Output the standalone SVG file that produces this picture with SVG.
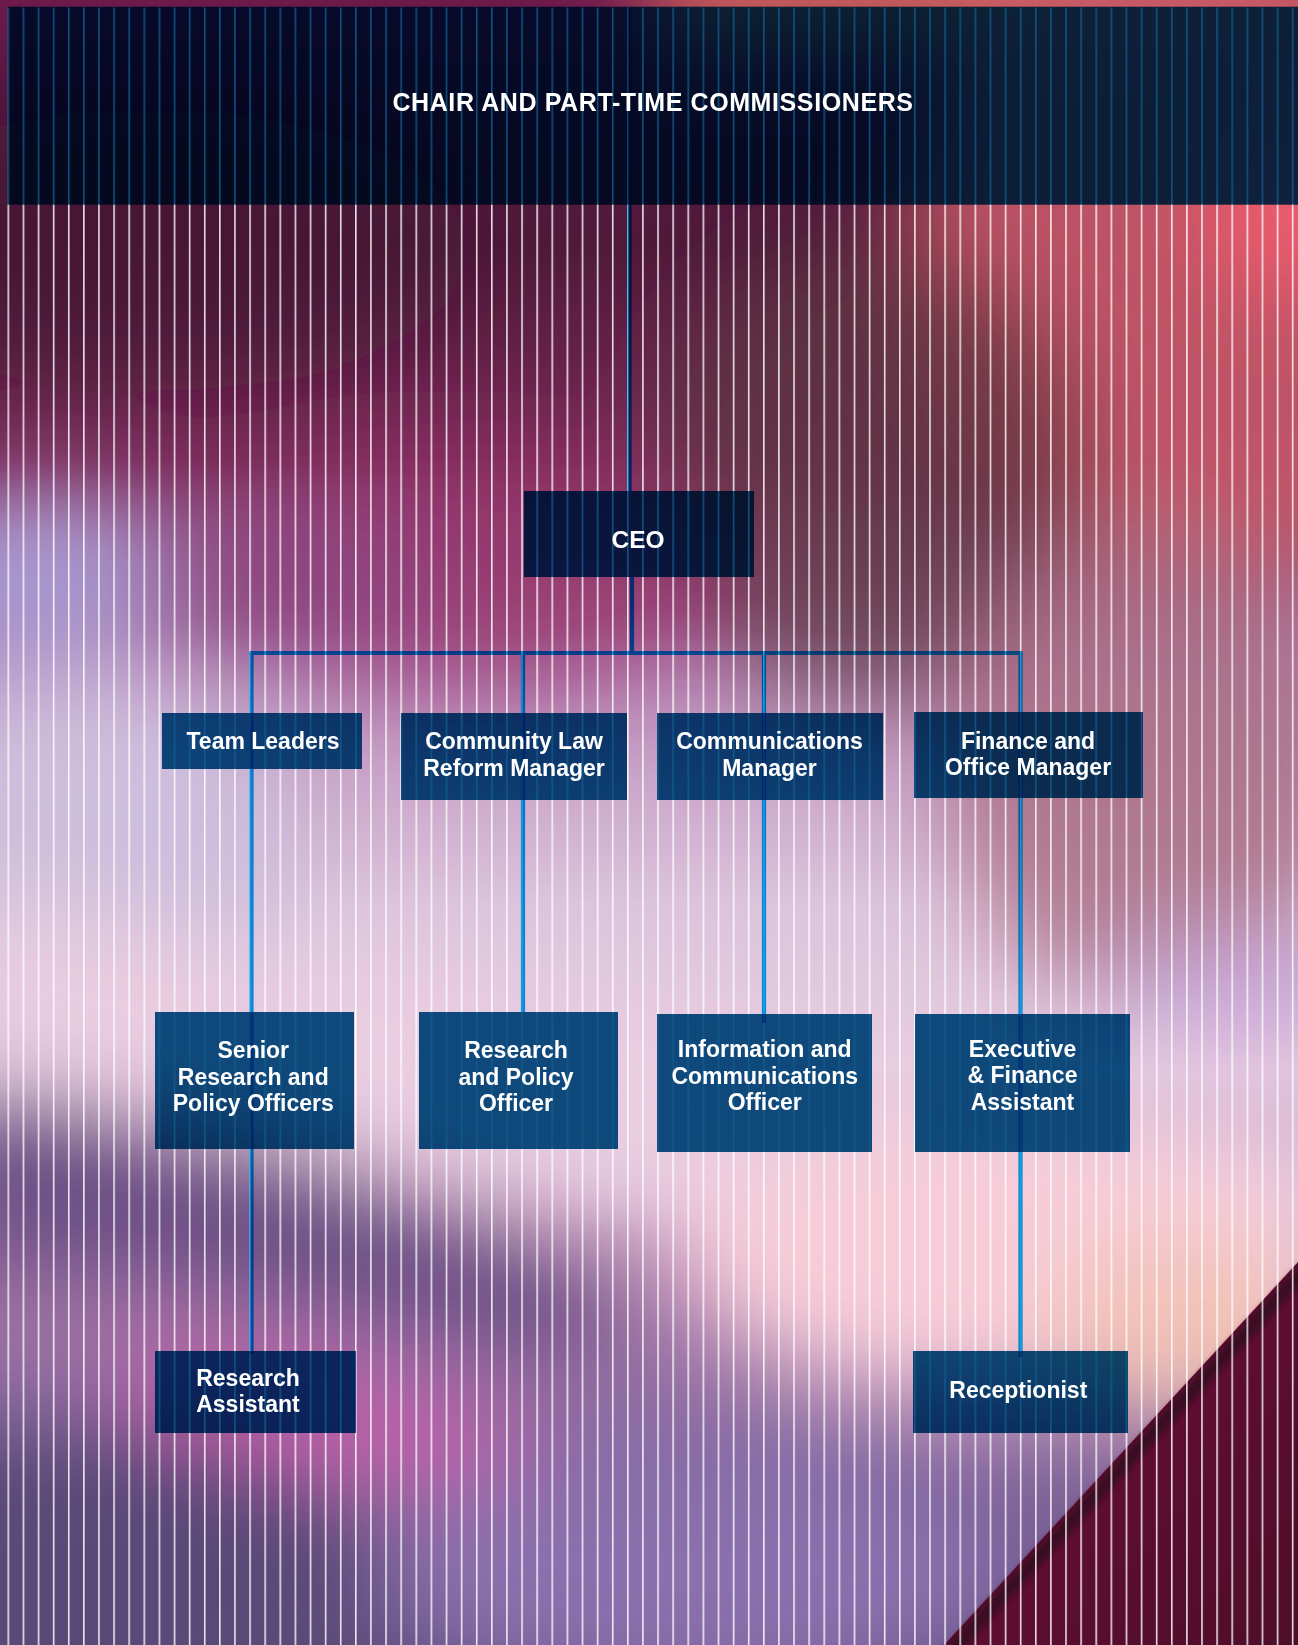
<svg xmlns="http://www.w3.org/2000/svg" width="1298" height="1645" viewBox="0 0 1298 1645">
<style>
.box{fill:#105b8c;mix-blend-mode:multiply}
.t{font-family:"Liberation Sans",Arial,sans-serif;font-weight:700;font-size:23px;fill:#ffffff;text-anchor:middle}
.conn path{fill:none;stroke:#0eaaf2;stroke-width:4.2}
</style>
<defs>
<linearGradient id="bgv" x1="0" y1="0" x2="0" y2="1">
<stop offset="0" stop-color="#6e1a4c"/>
<stop offset="0.06" stop-color="#561842"/>
<stop offset="0.15" stop-color="#501a3a"/>
<stop offset="0.28" stop-color="#7a2a58"/>
<stop offset="0.40" stop-color="#b888b8"/>
<stop offset="0.55" stop-color="#dcc4dc"/>
<stop offset="0.65" stop-color="#e6cce0"/>
<stop offset="0.75" stop-color="#a878a8"/>
<stop offset="0.88" stop-color="#8a6aa0"/>
<stop offset="1" stop-color="#5e4c7c"/>
</linearGradient>
<linearGradient id="crim" x1="0" y1="0" x2="1" y2="1">
<stop offset="0" stop-color="#6e0c3c"/>
<stop offset="1" stop-color="#4e0e28"/>
</linearGradient>
<filter id="blur" filterUnits="userSpaceOnUse" x="-300" y="-300" width="1900" height="2245">
<feGaussianBlur stdDeviation="45"/>
</filter>
<filter id="soft" filterUnits="userSpaceOnUse" x="-100" y="-100" width="1500" height="1845">
<feGaussianBlur stdDeviation="2.5"/>
</filter>
<pattern id="stripes" patternUnits="userSpaceOnUse" x="7.5" y="0" width="15.11" height="100">
<rect x="0" y="0" width="1.6" height="100" fill="#ffffff"/>
</pattern>
</defs>

<g id="background">
<rect x="0" y="0" width="1298" height="1645" fill="url(#bgv)"/>
<g filter="url(#blur)">
<rect x="650" y="-80" width="700" height="130" fill="#d0645e"/>
<ellipse cx="1200" cy="260" rx="300" ry="330" fill="#c85a68" opacity="0.9"/>
<ellipse cx="1290" cy="210" rx="90" ry="90" fill="#ec5c6e"/>
<ellipse cx="150" cy="250" rx="320" ry="140" fill="#3e1430" opacity="0.55"/>
<ellipse cx="870" cy="470" rx="220" ry="230" fill="#5c3440" opacity="0.75"/>
<ellipse cx="480" cy="570" rx="260" ry="120" fill="#94306a" opacity="0.75"/>
<ellipse cx="250" cy="580" rx="180" ry="80" fill="#8a4a84" opacity="0.7"/>
<ellipse cx="30" cy="580" rx="130" ry="85" fill="#a898d0"/>
<ellipse cx="80" cy="860" rx="220" ry="180" fill="#cdbedc"/>
<ellipse cx="1150" cy="760" rx="200" ry="250" fill="#a86a80" opacity="0.8"/>
<polygon points="-50,890 600,1000 1350,1130 1350,1330 700,1250 -50,1060" fill="#e8cce0"/>
<ellipse cx="1250" cy="990" rx="150" ry="50" fill="#c8a8d8"/>
<polygon points="-50,1090 300,1150 620,1290 560,1360 250,1290 -50,1260" fill="#6a4e84"/>
<ellipse cx="330" cy="1420" rx="230" ry="55" fill="#c060a8" transform="rotate(12 330 1420)"/>
<ellipse cx="1000" cy="1260" rx="320" ry="140" fill="#f6ccd8"/>
<ellipse cx="1180" cy="1330" rx="140" ry="90" fill="#f2c2b6"/>
<ellipse cx="700" cy="1570" rx="320" ry="130" fill="#8a70ac"/>
<ellipse cx="80" cy="1590" rx="300" ry="160" fill="#5a4a78"/>
</g>
<polygon points="1298,1262 944,1645 1298,1645" fill="url(#crim)"/>
<line x1="1306" y1="1268" x2="948" y2="1655" stroke="#3a1022" stroke-width="14" filter="url(#soft)"/>
</g>

<rect id="stripe-overlay" x="0" y="7.5" width="1298" height="1637.5" fill="url(#stripes)" opacity="0.85"/>

<g id="connectors" class="conn" style="mix-blend-mode:multiply">
<path d="M629.5 8 V491"/>
<path d="M632 577 V653"/>
<path d="M249.5 653 H1022.5"/>
<path d="M251.5 653 V1354"/>
<path d="M523 653 V1012"/>
<path d="M764 653 V1023"/>
<path d="M1020.5 653 V1357"/>
</g>

<g id="n-chair">
<rect class="box" x="7.3" y="6.7" width="1290.7" height="198"/>
<text class="t" x="653" y="111" style="font-size:25px;letter-spacing:0.6px">CHAIR AND PART-TIME COMMISSIONERS</text>
</g>
<g id="n-ceo">
<rect class="box" x="524" y="491" width="230" height="86"/>
<text class="t" x="638" y="548" style="font-size:24.5px">CEO</text>
</g>
<g id="n-team-leaders">
<rect class="box" x="162" y="713" width="200" height="56"/>
<text class="t" x="263" y="749.3">Team Leaders</text>
</g>
<g id="n-community-law">
<rect class="box" x="401" y="713" width="226" height="87"/>
<text class="t" x="514" y="749">Community Law</text>
<text class="t" x="514" y="776">Reform Manager</text>
</g>
<g id="n-comms-manager">
<rect class="box" x="657" y="713" width="226" height="87"/>
<text class="t" x="769.5" y="748.7">Communications</text>
<text class="t" x="769.5" y="775.7">Manager</text>
</g>
<g id="n-finance-manager">
<rect class="box" x="914" y="712" width="229" height="86"/>
<text class="t" x="1028" y="748.7">Finance and</text>
<text class="t" x="1028" y="775">Office Manager</text>
</g>
<g id="n-senior-research">
<rect class="box" x="155" y="1012" width="199" height="137"/>
<text class="t" x="253.3" y="1058.3">Senior</text>
<text class="t" x="253.3" y="1084.5">Research and</text>
<text class="t" x="253.3" y="1110.7">Policy Officers</text>
</g>
<g id="n-research-policy">
<rect class="box" x="419" y="1012" width="199" height="137"/>
<text class="t" x="516" y="1058.3">Research</text>
<text class="t" x="516" y="1084.5">and Policy</text>
<text class="t" x="516" y="1110.7">Officer</text>
</g>
<g id="n-info-comms">
<rect class="box" x="657" y="1014" width="215" height="138"/>
<text class="t" x="764.7" y="1057.3">Information and</text>
<text class="t" x="764.7" y="1083.6">Communications</text>
<text class="t" x="764.7" y="1110">Officer</text>
</g>
<g id="n-exec-finance">
<rect class="box" x="915" y="1014" width="215" height="138"/>
<text class="t" x="1022.5" y="1056.7">Executive</text>
<text class="t" x="1022.5" y="1083.3">&amp; Finance</text>
<text class="t" x="1022.5" y="1110">Assistant</text>
</g>
<g id="n-research-assistant">
<rect class="box" x="155" y="1351" width="201" height="82"/>
<text class="t" x="248" y="1386">Research</text>
<text class="t" x="248" y="1412.3">Assistant</text>
</g>
<g id="n-receptionist">
<rect class="box" x="913" y="1351" width="215" height="82"/>
<text class="t" x="1018.3" y="1397.7">Receptionist</text>
</g>
</svg>
